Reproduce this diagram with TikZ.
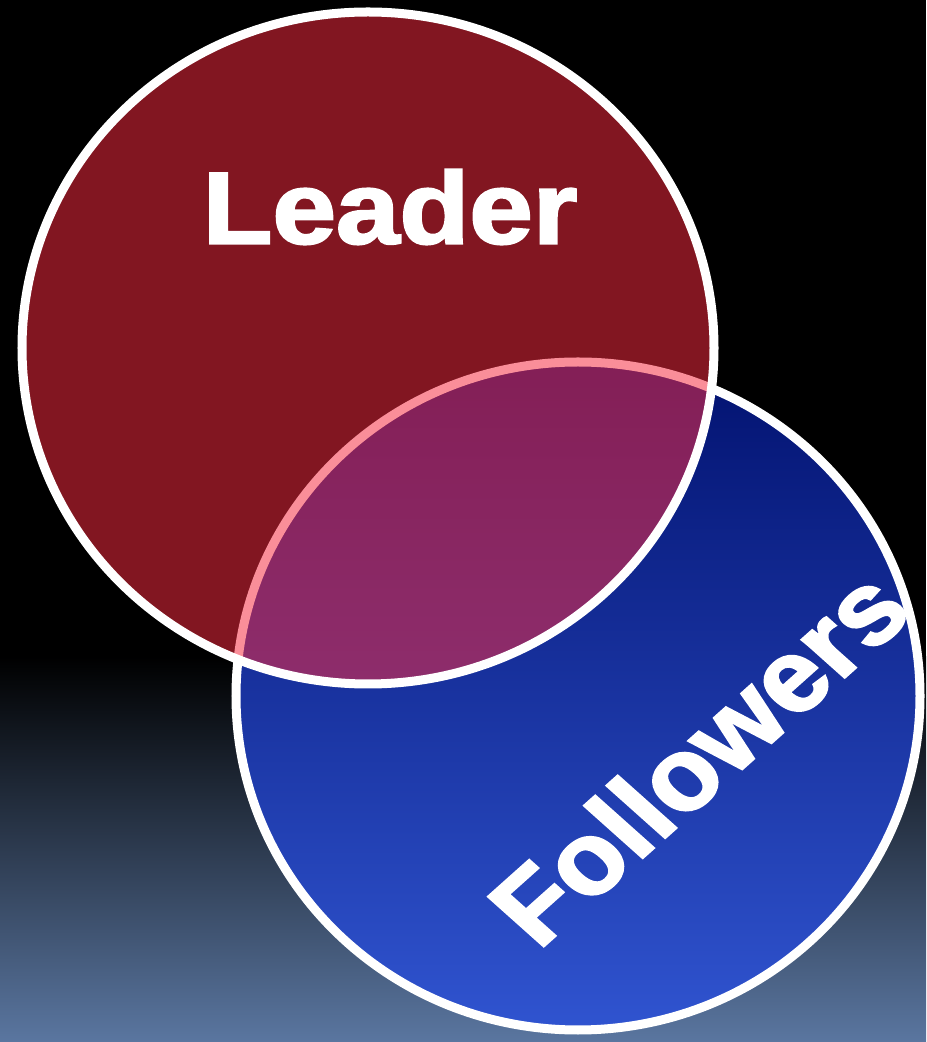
\documentclass[tikz,border=0pt]{standalone}
\usepackage{fontspec}
\newfontfamily\heavyfont[BoldFeatures={FakeBold=2.2}]{Liberation Sans}
\usetikzlibrary{positioning}
\usetikzlibrary{calc}

\definecolor{leaderred}{RGB}{247,42,64}
\definecolor{followtop}{RGB}{2,18,112}
\definecolor{followmid}{RGB}{10,32,138}
\definecolor{followbot}{RGB}{48,84,208}
\definecolor{bgbottom}{RGB}{90,118,160}

\tikzset{
	ring/.style={draw=white, line width=0.09cm},
	word/.style={text=white, inner sep=0pt, font=\heavyfont\bfseries\fontsize{29}{29}\selectfont, xscale=1.12}
}

\begin{document}
\begin{tikzpicture}[x=0.01cm, y=0.01cm]
 	 % Background: black above, slate blue towards the bottom
 	 \useasboundingbox (0,0) rectangle (926,1042);
 	 \fill[black] (0,385) rectangle (926,1042);
 	 \shade[top color=black, bottom color=bgbottom] (0,0) rectangle (926,385.5);

 	 % Set the centres of the two circles
 	 \coordinate (lc) at (368,694);
 	 \coordinate (fc) at (578,346);

 	 % Followers circle first, the leader lies over it
 	 \shade[top color=followtop, middle color=followmid, bottom color=followbot] (fc) ellipse [x radius=342, y radius=334];
 	 \draw[ring] (fc) ellipse [x radius=342, y radius=334];
 	 \fill[leaderred, fill opacity=0.53] (lc) ellipse [x radius=346, y radius=336];
 	 \draw[ring] (lc) ellipse [x radius=346, y radius=336];

 	 \node[word] (leader) at (390,835) {Leader};
 	 \node[word, rotate=45] (followers) at (698,285) {Followers};
\end{tikzpicture}
\end{document}
